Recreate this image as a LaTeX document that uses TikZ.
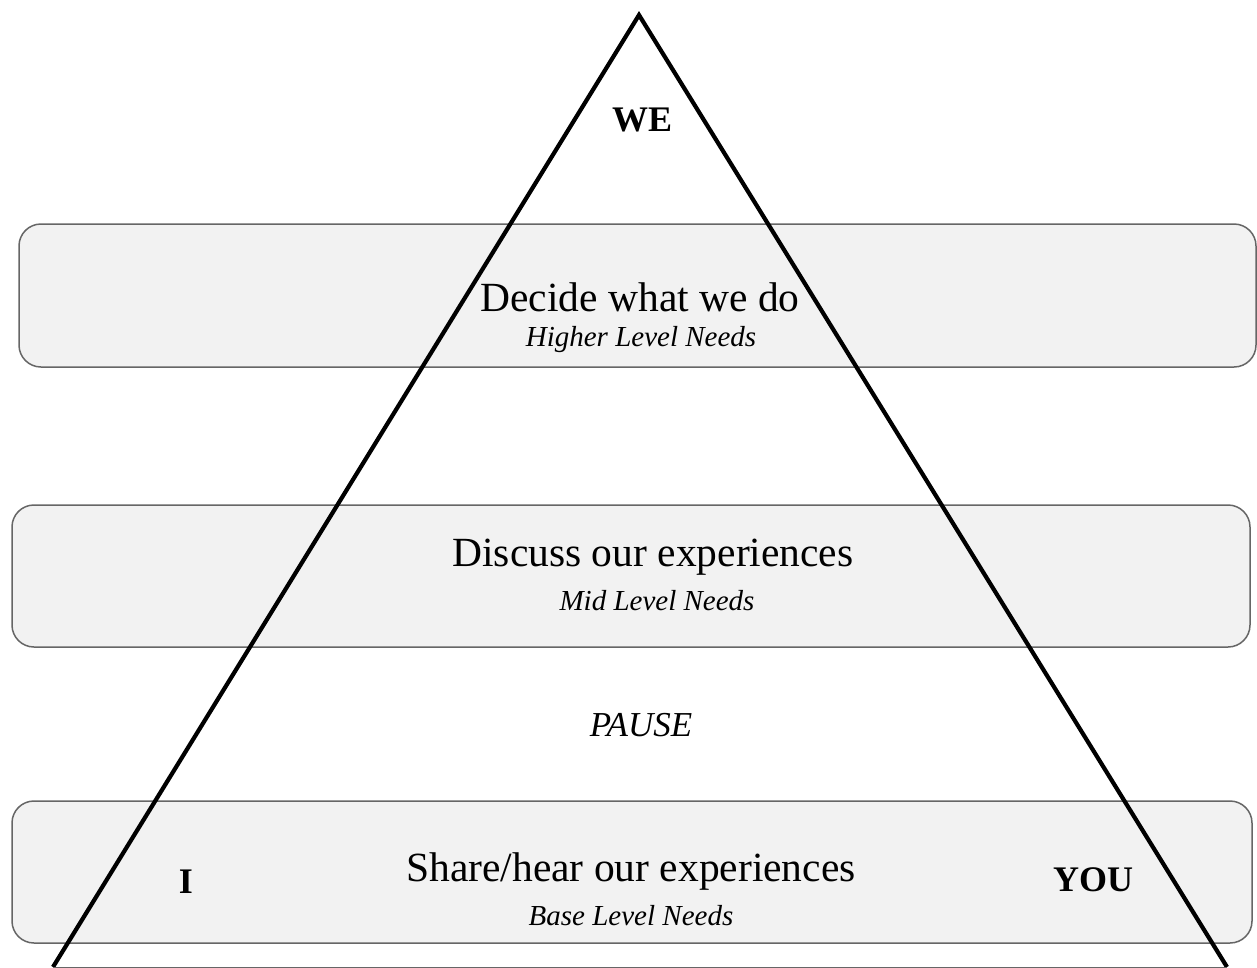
\documentclass[tikz,border=0pt]{standalone}
\usepackage{fontspec}
\setmainfont{Liberation Serif}
\begin{document}
\begin{tikzpicture}[x=1pt,y=-1pt,
  band/.style={draw=black!60, line width=1.5pt, fill=black!5, rounded corners=22pt},
  main/.style={font=\fontsize{41.5}{46}\selectfont, inner sep=0pt},
  sub/.style={font=\fontsize{29}{33}\selectfont\itshape, inner sep=0pt},
  tag/.style={font=\fontsize{36}{40}\selectfont\bfseries, inner sep=0pt},
  tri/.style={line width=4.2pt, line join=miter}]
\useasboundingbox (0,0) rectangle (1257,967);
\draw[band] (19,224) rectangle (1256,367);
\draw[band] (12,505) rectangle (1250,647);
\draw[band] (12,801) rectangle (1252,943);
\node[main] (t1) at (640,297) {Decide what we do};
\node[sub] (s1) at (641,340) {Higher Level Needs};
\node[main] (t2) at (653,557) {Discuss our experiences};
\node[sub] (s2) at (657,601) {Mid Level Needs};
\node[sub, font=\fontsize{35}{40}\selectfont\itshape] (p) at (641,725) {PAUSE};
\node[main] (t3) at (631,872) {Share/hear our experiences};
\node[sub] (s3) at (631,916) {Base Level Needs};
\node[tag] (we) at (642,120) {WE};
\node[tag] (i) at (186,882) {I};
\node[tag] (you) at (1093,880) {YOU};
\coordinate (apex) at (639,15);
\coordinate (bl) at (53,967);
\coordinate (br) at (1227,967);
\draw[tri] (bl) -- (apex) -- (br);
\draw[black!60, line width=1pt] (bl) -- (br);
\end{tikzpicture}
\end{document}
